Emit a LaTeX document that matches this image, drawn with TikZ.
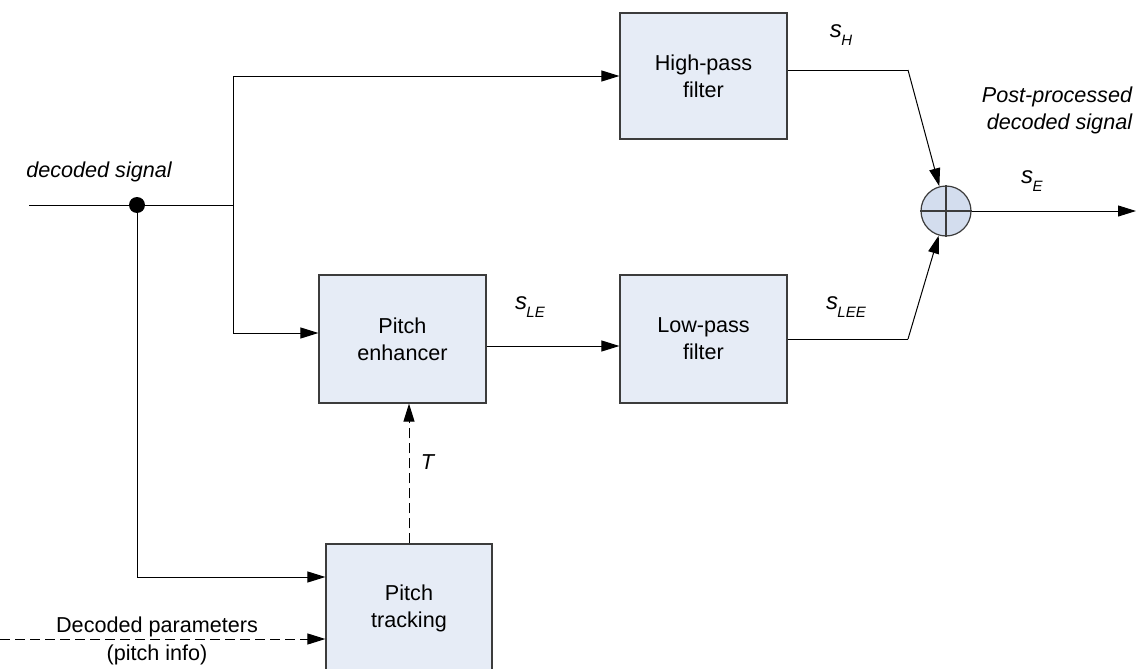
\documentclass[tikz,border=0pt]{standalone}
\usepackage{fontspec}
\setmainfont{Liberation Sans}
\usetikzlibrary{arrows.meta,calc}
\definecolor{boxfill}{RGB}{230,236,246}
\definecolor{sumfill}{RGB}{211,221,238}
\definecolor{boxdraw}{RGB}{60,60,60}
\newcommand{\sig}[1]{{\fontsize{12}{14}\selectfont\textit{s}}\kern-0.3pt\raisebox{-0.7ex}{\fontsize{7.5}{9}\selectfont\textit{#1}}}
\begin{document}
\begin{tikzpicture}[x=0.5pt,y=-0.5pt,
  every node/.style={font=\fontsize{10.8}{13.5}\selectfont},
  block/.style={draw=boxdraw,fill=boxfill,line width=0.6pt,minimum width=83.5pt,minimum height=64pt,inner sep=0pt,align=center},
  sumnode/.style={circle,draw=boxdraw,fill=sumfill,line width=0.6pt,minimum size=25pt,inner sep=0pt},
  wire/.style={line width=0.5pt,draw=black},
  arr/.style={wire,-{Triangle[length=9pt,width=5.5pt]}},
  dashwire/.style={wire,dash pattern=on 5pt off 2.5pt},
  lbl/.style={inner sep=0pt}]
\useasboundingbox (0,0) rectangle (1136,669);
% blocks
\node[block,minimum height=63pt] (hp) at (703.5,76) {High-pass\\filter};
\node[block] (pe) at (402.5,339) {Pitch\\enhancer};
\node[block] (lp) at (703.5,339) {Low-pass\\filter};
\node[block,minimum width=83pt] (pt) at (409,608) {Pitch\\tracking};
\node[sumnode] (sum) at (946,211) {};
\draw[boxdraw,line width=0.6pt] (sum.north) -- (sum.south) (sum.west) -- (sum.east);
% coordinates
\coordinate (in) at (29,205);
\coordinate (j) at (233,205);
\node[circle,fill=black,minimum size=8pt,inner sep=0pt] (dot) at (137,205) {};
\coordinate (c1) at (908,70);
\coordinate (c2) at (908,339);
\coordinate (out) at (1136,211);
\coordinate (par) at (0,639);
% connectors
\draw[wire] (in) -- (j);
\draw[arr] (j) |- ([yshift=0pt]hp.west);
\draw[arr] (j) |- ([yshift=3pt]pe.west);
\draw[arr] ([yshift=-3.5pt]pe.east) -- ([yshift=-3.5pt]lp.west);
\draw[wire] ([yshift=3pt]hp.east) -- (c1);
\draw[arr] (c1) -- (sum);
\draw[wire] (lp.east) -- (c2);
\draw[arr] (c2) -- (sum);
\draw[arr] (sum.east) -- (out);
\draw[arr] (dot) |- ([yshift=15.5pt]pt.west);
\draw[dashwire,-{Triangle[length=9pt,width=5.5pt]}] (par) -- (par -| pt.west);
\draw[dashwire,-{Triangle[length=9pt,width=5.5pt]}] (pt.north) -- (pt.north |- pe.south);
% labels
\node[lbl,anchor=west] (ldec) at (26,172) {\textit{decoded signal}};
\node[lbl] (lpar) at (157,627) {Decoded parameters};
\node[lbl] (lpi) at (157,655) {(pitch info)};
\node[lbl] (lsh) at (841,35) {\sig{H}};
\node[lbl] (lsle) at (530,307) {\sig{LE}};
\node[lbl] (lslee) at (846,307) {\sig{LEE}};
\node[lbl] (lse) at (1032,181) {\sig{E}};
\node[lbl] (lt) at (428,462) {\textit{T}};
\node[lbl,anchor=east,align=right] (lpost) at (1133,110) {\textit{Post-processed}\\\textit{decoded signal}};
\end{tikzpicture}
\end{document}
